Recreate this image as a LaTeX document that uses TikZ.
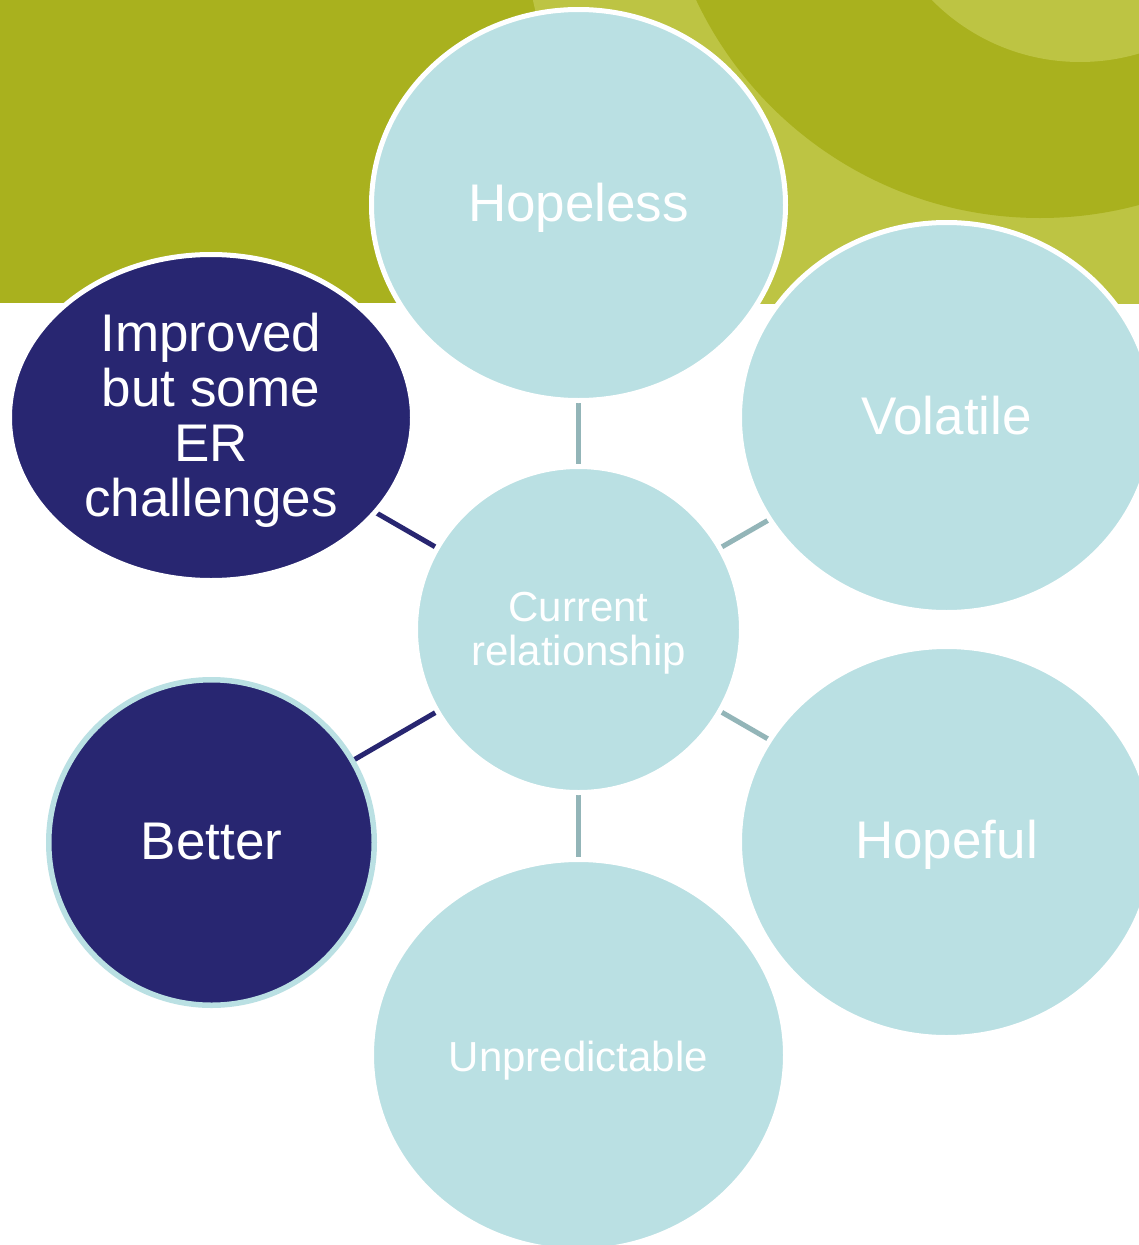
\documentclass[tikz,border=0pt]{standalone}
\usepackage{fontspec}
\setmainfont{Liberation Sans}
\usetikzlibrary{shapes.geometric}

\definecolor{bandgreen}{RGB}{169,177,30}
\definecolor{palegreen}{RGB}{189,196,67}
\definecolor{bubblefill}{RGB}{186,224,227}
\definecolor{navy}{RGB}{40,38,113}
\definecolor{linkteal}{RGB}{147,181,184}

\pgfdeclarelayer{backdrop}
\pgfdeclarelayer{links}
\pgfsetlayers{backdrop,links,main}

\tikzset{
  bubble/.style={ellipse, fill=bubblefill, draw=white, line width=5pt,
    inner sep=0pt, outer sep=0pt, text=white, align=center,
    font=\fontsize{53}{55}\selectfont, text height=33pt, text depth=0pt},
  smalltext/.style={font=\fontsize{42}{44}\selectfont, text height=32pt},
  darkbubble/.style={bubble, fill=navy},
  link/.style={line width=5pt, draw=linkteal},
  darklink/.style={link, draw=navy},
}

\begin{document}
\begin{tikzpicture}[x=1pt,y=-1pt]
\useasboundingbox (0,0) rectangle (1139,1245);

% header band with its decorative rings
\begin{pgfonlayer}{backdrop}
  \fill[white] (0,0) rectangle (1139,1245);
  \begin{scope}
    \clip (0,0) rectangle (1139,303);
    \fill[bandgreen] (0,0) rectangle (1139,303);
    \fill[palegreen] (1080,-120) circle (560pt);
    \fill[bandgreen] (1040,-162) circle (380pt);
    \fill[palegreen] (1080,-146) circle (208pt);
  \end{scope}
\end{pgfonlayer}

% hub and surrounding bubbles
\node[bubble, smalltext, text height=74pt, text depth=3pt,
  minimum width=326pt, minimum height=326pt]
  (current) at (578.5,629.5) {Current\\relationship};
\node[bubble, minimum width=414pt, minimum height=391pt]
  (hopeless) at (578.5,205) {Hopeless};
\node[bubble, minimum width=414pt, minimum height=390pt]
  (volatile) at (946.5,417.5) {Volatile};
\node[bubble, minimum width=414pt, minimum height=391pt]
  (hopeful) at (946.5,842) {Hopeful};
\node[bubble, smalltext, minimum width=414pt, minimum height=391pt]
  (unpredictable) at (578.5,1055) {Unpredictable};
\node[darkbubble, text height=205pt, text depth=8pt,
  minimum width=403pt, minimum height=326pt]
  (improved) at (211,417.5) {Improved\\but some\\ER\\challenges};
\node[darkbubble, draw=bubblefill, line width=5.5pt,
  minimum width=325.5pt, minimum height=325.5pt]
  (better) at (211.5,842.5) {Better};

% spokes, drawn beneath the bubbles
\begin{pgfonlayer}{links}
  \draw[link] (current.center) -- (hopeless.center);
  \draw[link] (current.center) -- (volatile.center);
  \draw[link] (current.center) -- (hopeful.center);
  \draw[link] (current.center) -- (unpredictable.center);
  \draw[darklink] (current.center) -- (improved.center);
  \draw[darklink] (current.center) -- (better.center);
\end{pgfonlayer}
\end{tikzpicture}
\end{document}
